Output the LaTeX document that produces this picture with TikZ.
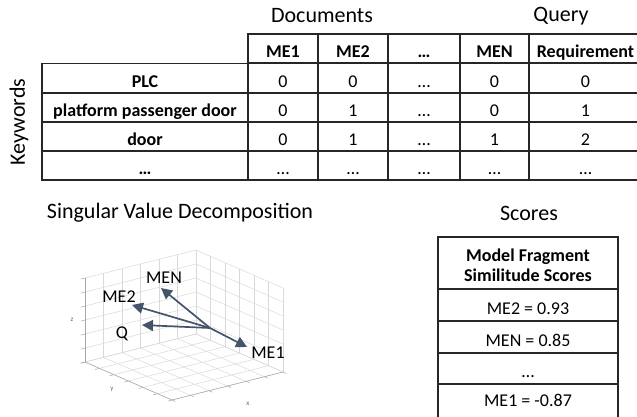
\documentclass[tikz,border=0pt]{standalone}
\usepackage{fontspec}
\setmainfont{Carlito}
\usetikzlibrary{arrows.meta}
\definecolor{vecblue}{HTML}{44546A}
\begin{document}
\begin{tikzpicture}[x=1pt,y=-1pt,
  cell/.style={draw=black!85, line width=1.1pt, inner sep=0pt, anchor=center,
    font=\fontsize{18}{20}\selectfont, minimum height=29pt,
    text height=18pt, text depth=0pt},
  title/.style={font=\fontsize{22}{24}\selectfont, inner sep=0pt},
  grid3d/.style={draw=black!15, line width=0.5pt},
  axis3d/.style={draw=black!35, line width=0.5pt},
  axlabel/.style={font=\fontsize{7}{8}\selectfont\rmfamily, text=black!60, inner sep=0pt},
  vec/.style={draw=vecblue, line width=1.7pt, -{Triangle[length=11pt,width=11pt]}},
  veclabel/.style={font=\fontsize{18}{20}\selectfont, inner sep=0pt}]
\useasboundingbox (0,0) rectangle (637,416);
\clip (0,0) rectangle (637,416);

% titles
\node[title] (tdoc) at (322,16) {Documents};
\node[title] (tquery) at (561,16) {Query};
\node[title, rotate=90] (tkw) at (19,122) {Keywords};
\node[title] (tsvd) at (180,213) {Singular Value Decomposition};
\node[title] (tscores) at (529,213) {Scores};

% header row
\node[cell, minimum width=70pt] (hA) at (283,48.5) {\bfseries ME1};
\node[cell, minimum width=70pt] (hB) at (353,48.5) {\bfseries ME2};
\node[cell, minimum width=72pt] (hC) at (424,48.5) {\bfseries …};
\node[cell, minimum width=69pt] (hD) at (494.5,48.5) {\bfseries MEN};
\node[cell, minimum width=113pt] (hE) at (585.5,48.5) {\bfseries Requirement};

% body rows
\foreach \r/\y/\k/\a/\b/\c/\d/\e in {
  1/78/PLC/0/0/…/0/0,
  2/107.5/platform passenger door/0/1/…/0/1,
  3/136.5/door/0/1/…/1/2,
  4/165.5/…/…/…/…/…/…}{
  \node[cell, minimum width=206pt] (r\r k) at (145,\y) {\bfseries \k};
  \node[cell, minimum width=70pt] (r\r a) at (283,\y) {\a};
  \node[cell, minimum width=70pt] (r\r b) at (353,\y) {\b};
  \node[cell, minimum width=72pt] (r\r c) at (424,\y) {\c};
  \node[cell, minimum width=69pt] (r\r d) at (494.5,\y) {\d};
  \node[cell, minimum width=113pt] (r\r e) at (585.5,\y) {\e};
}

% scores table
\node[cell, minimum width=180pt, minimum height=52pt] (sh) at (528,263) {};
\node[font=\fontsize{18}{20}\selectfont, inner sep=0pt, align=center] (sht) at (528,265)
  {\bfseries Model Fragment\\\bfseries Similitude Scores};
\node[cell, minimum width=180pt, minimum height=32pt] (s1) at (528,305) {ME2 = 0.93};
\node[cell, minimum width=180pt, minimum height=32pt] (s2) at (528,337) {MEN = 0.85};
\node[cell, minimum width=180pt, minimum height=31pt] (s3) at (528,368.5) {…};
\node[cell, minimum width=180pt, minimum height=40pt] (s4) at (528,404.5) {};
\node[font=\fontsize{18}{20}\selectfont, inner sep=0pt] (s4t) at (528,400) {ME1 = -0.87};

% 3D plot grid
\begin{scope}[shift={(172,400)}, x={(111pt,28pt)}, y={(-87pt,38pt)}, z={(0pt,84pt)}]
  \foreach \i in {0,...,6}{
    \draw[grid3d] (\i/6,0,0) -- (\i/6,1,0);
    \draw[grid3d] (0,\i/6,0) -- (1,\i/6,0);
    \draw[grid3d] (\i/6,1,0) -- (\i/6,1,1);
    \draw[grid3d] (0,1,\i/6) -- (1,1,\i/6);
    \draw[grid3d] (1,\i/6,0) -- (1,\i/6,1);
    \draw[grid3d] (1,0,\i/6) -- (1,1,\i/6);
  }
  \draw[axis3d] (0,1,0) -- (0,0,0) -- (1,0,0);
  \draw[axis3d] (0,1,0) -- (0,1,1);
  \foreach \i in {0,...,6}{
    \draw[axis3d] (0,1,\i/6) -- ++(-0.04,0,0);
    \draw[axis3d] (\i/6,0,0) -- ++(0,-0.04,0);
    \draw[axis3d] (0,\i/6,0) -- ++(-0.04,0,0);
  }
\end{scope}
\node[axlabel] (lz) at (72,320) {z};
\node[axlabel] (ly) at (112,389) {y};
\node[axlabel] (lx) at (248,404) {x};

% vectors
\coordinate (o) at (210,328);
\coordinate (tMEN) at (161,288);
\coordinate (tME2) at (132,305);
\coordinate (tQ) at (142,325);
\coordinate (tME1) at (247,347);
\draw[vec] (o) -- (tMEN);
\draw[vec] (o) -- (tME2);
\draw[vec] (o) -- (tQ);
\draw[vec] (o) -- (tME1);
\node[veclabel] (lMEN) at (164,278) {MEN};
\node[veclabel] (lME2) at (119,297) {ME2};
\node[veclabel] (lQ) at (122,334) {Q};
\node[veclabel] (lME1) at (268,353) {ME1};
\end{tikzpicture}
\end{document}
